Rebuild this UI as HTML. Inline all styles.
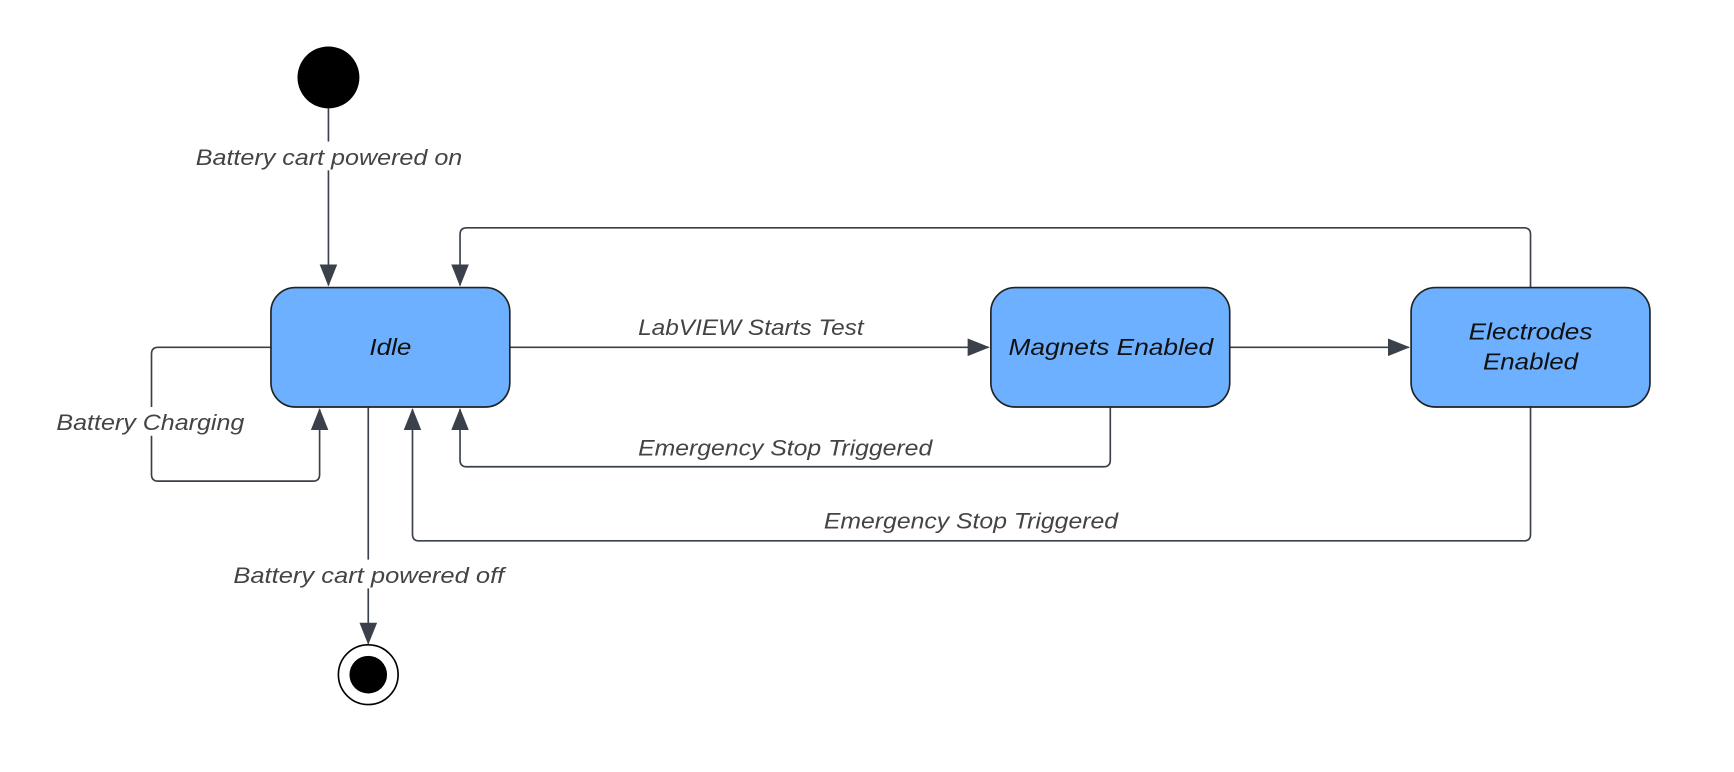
<!DOCTYPE html>
<html><head><meta charset="utf-8"><style>
html,body{margin:0;padding:0;background:#fff;}
svg{display:block;}
text{font-family:"Liberation Sans",sans-serif;font-style:italic;}
.l{font-size:20px;fill:#444;}
.n{font-size:21px;fill:#111;}
</style></head><body>
<svg width="1734" height="772" viewBox="0 0 1568 698" preserveAspectRatio="none" xmlns="http://www.w3.org/2000/svg">
<defs>
<marker id="b" markerWidth="20" markerHeight="16" refX="19" refY="8" orient="auto" markerUnits="userSpaceOnUse">
<path d="M0,0 L20,8 L0,16 Z" fill="#3a414a"/>
</marker>
</defs>
<g fill="none" stroke="#3a414a" stroke-width="1.5">
<path d="M297,98 V258" marker-end="url(#b)"/>
<path d="M461,314 H894" marker-end="url(#b)"/>
<path d="M1112,314 H1274" marker-end="url(#b)"/>
<path d="M1384,260 V212 Q1384,206 1378,206 H422 Q416,206 416,212 V258" marker-end="url(#b)"/>
<path d="M1004,368 V416 Q1004,422 998,422 H422 Q416,422 416,416 V370" marker-end="url(#b)"/>
<path d="M1384,368 V483 Q1384,489 1378,489 H379 Q373,489 373,483 V370" marker-end="url(#b)"/>
<path d="M245,314 H143 Q137,314 137,320 V429 Q137,435 143,435 H283 Q289,435 289,429 V370" marker-end="url(#b)"/>
<path d="M333,368 V582" marker-end="url(#b)"/>
</g>
<circle cx="297" cy="70" r="28" fill="#000"/>
<circle cx="333" cy="610" r="27" fill="#fff" stroke="#000" stroke-width="1.5"/>
<circle cx="333" cy="610" r="17" fill="#000"/>
<g fill="#6cb0ff" stroke="#222" stroke-width="1.5">
<rect x="245" y="260" width="216" height="108" rx="22"/>
<rect x="896" y="260" width="216" height="108" rx="22"/>
<rect x="1276" y="260" width="216" height="108" rx="22"/>
</g>
<text class="n" x="334" y="321" textLength="38" lengthAdjust="spacingAndGlyphs">Idle</text>
<text class="n" x="912" y="321" textLength="185" lengthAdjust="spacingAndGlyphs">Magnets Enabled</text>
<text class="n" x="1328" y="307" textLength="112" lengthAdjust="spacingAndGlyphs">Electrodes</text>
<text class="n" x="1341" y="334" textLength="86" lengthAdjust="spacingAndGlyphs">Enabled</text>
<rect x="172" y="128" width="250" height="26" fill="#fff"/>
<text class="l" x="177" y="149" textLength="241" lengthAdjust="spacingAndGlyphs">Battery cart powered on</text>
<text class="l" x="577" y="303" textLength="204" lengthAdjust="spacingAndGlyphs">LabVIEW Starts Test</text>
<text class="l" x="577" y="412" textLength="266" lengthAdjust="spacingAndGlyphs">Emergency Stop Triggered</text>
<text class="l" x="745" y="478" textLength="266" lengthAdjust="spacingAndGlyphs">Emergency Stop Triggered</text>
<rect x="48" y="368" width="178" height="26" fill="#fff"/>
<text class="l" x="51" y="389" textLength="170" lengthAdjust="spacingAndGlyphs">Battery Charging</text>
<rect x="206" y="506" width="254" height="26" fill="#fff"/>
<text class="l" x="211" y="527" textLength="245" lengthAdjust="spacingAndGlyphs">Battery cart powered off</text>
</svg>
</body></html>
